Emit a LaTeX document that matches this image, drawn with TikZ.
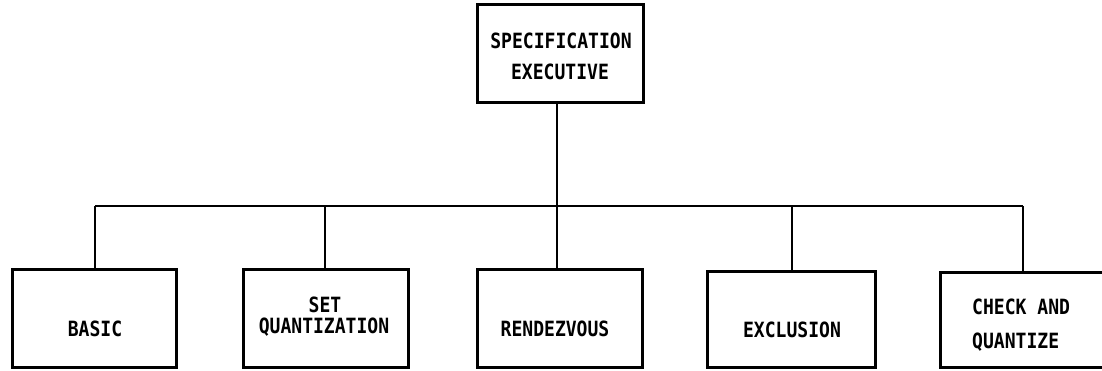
\documentclass[tikz,border=0pt]{standalone}
\usepackage{fontspec}
\newfontfamily\lettering[FakeStretch=0.86]{DejaVu Sans Mono}
\begin{document}
\begin{tikzpicture}[x=1pt,y=-1pt,
  box/.style={draw=black, line width=3pt, rectangle, inner sep=0pt},
  conn/.style={draw=black, line width=2.8pt},
  lbl/.style={font=\lettering\bfseries\fontsize{21}{22}\selectfont, inner sep=0pt, anchor=center}]
\useasboundingbox (0,0) rectangle (1102,371);
\fill[white] (0,0) rectangle (1102,371);
% boxes
\node[box, minimum width=166pt, minimum height=98pt] (top) at (560,54) {};
\node[box, minimum width=164pt, minimum height=98pt] (basic) at (94,318) {};
\node[box, minimum width=165pt, minimum height=98pt] (setq) at (325.5,318) {};
\node[box, minimum width=165pt, minimum height=98pt] (rend) at (559.5,318) {};
\node[box, minimum width=168pt, minimum height=96pt] (excl) at (791,319) {};
\node[box, minimum width=172pt, minimum height=95pt] (check) at (1026,319.5) {};
% texts
\node[lbl] (t1) at (561,41) {SPECIFICATION};
\node[lbl] (t2) at (560,72) {EXECUTIVE};
\node[lbl] (b1) at (95,329) {BASIC};
\node[lbl] (s1) at (325,305) {SET};
\node[lbl] (s2) at (324,327) {QUANTIZATION};
\node[lbl] (r1) at (555,329) {RENDEZVOUS};
\node[lbl] (e1) at (792,330) {EXCLUSION};
\node[lbl, anchor=west] (c1) at (972,307) {CHECK AND};
\node[lbl, anchor=west] (c2) at (972,342) {QUANTIZE};
% connectors
\coordinate (j0) at (557,206);
\coordinate (d1) at (95,206);
\coordinate (d2) at (325,206);
\coordinate (d4) at (792,206);
\coordinate (d5) at (1023,206);
\draw[conn] (top.south -| j0) -- (j0);
\draw[conn] (d1) -- (d5);
\draw[conn] (d1) -- (d1 |- basic.north);
\draw[conn] (d2) -- (d2 |- setq.north);
\draw[conn] (j0) -- (j0 |- rend.north);
\draw[conn] (d4) -- (d4 |- excl.north);
\draw[conn] (d5) -- (d5 |- check.north);
\end{tikzpicture}
\end{document}
